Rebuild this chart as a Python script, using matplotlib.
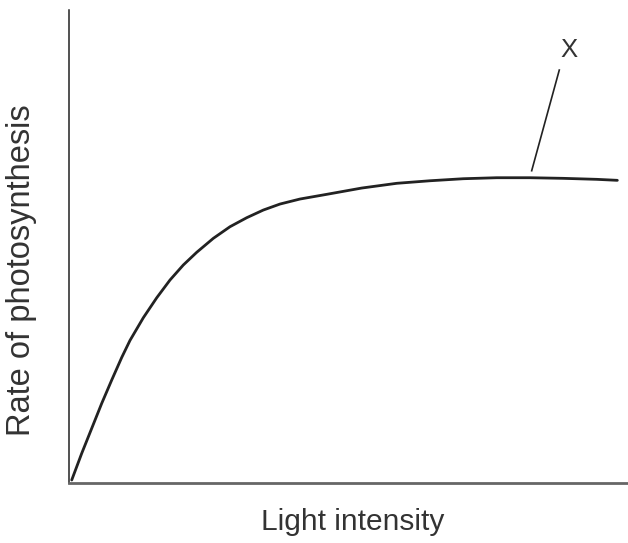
import matplotlib
matplotlib.use('Agg')
import matplotlib.pyplot as plt
import numpy as np

plt.rcParams['font.family'] = ['Liberation Sans', 'DejaVu Sans']

# curve (axis units 0-10, no scale shown)
light = [0.043, 0.222, 0.401, 0.580, 0.759, 0.938, 1.086, 1.325, 1.564, 1.802,
         2.040, 2.280, 2.577, 2.876, 3.175, 3.472, 3.771, 4.129, 4.607, 5.234,
         5.860, 6.456, 7.052, 7.650, 8.246, 8.842, 9.440, 9.809]
rate = [0.070, 0.634, 1.162, 1.690, 2.183, 2.660, 3.020, 3.500, 3.920, 4.296,
        4.613, 4.881, 5.176, 5.422, 5.612, 5.774, 5.901, 6.007, 6.106, 6.239,
        6.339, 6.393, 6.436, 6.457, 6.457, 6.444, 6.423, 6.402]

# pointer to the plateau and its label
pointer_x = [8.770, 8.276]
pointer_y = [8.732, 6.605]
label_x, label_y = 8.949, 9.155

fig = plt.figure(figsize=(6.28, 5.43), dpi=100)
ax = fig.add_axes([0.1104, 0.1099, 0.8896, 0.8716])

ax.plot(light, rate, color='#222222', linewidth=2.0,
        solid_capstyle='round', solid_joinstyle='round')
ax.plot(pointer_x, pointer_y, color='#222222', linewidth=1.2)
ax.text(label_x, label_y, 'X', fontsize=18.5, color='#333333',
        ha='center', va='center')

ax.set_xlim(0, 10)
ax.set_ylim(0, 10)
ax.set_xticks([])
ax.set_yticks([])
ax.spines['top'].set_visible(False)
ax.spines['right'].set_visible(False)
ax.spines['left'].set_color('#222222')
ax.spines['left'].set_linewidth(1.1)
ax.spines['bottom'].set_color('#666666')
ax.spines['bottom'].set_linewidth(2.0)

ax.set_xlabel('Light intensity', fontsize=21.5, color='#333333', va='top')
ax.xaxis.set_label_coords(0.507, -0.052)
ax.set_ylabel('Rate of photosynthesis', fontsize=23.5, color='#333333',
              va='center')
ax.yaxis.set_label_coords(-0.085, 0.4507)

fig.savefig('out.png', dpi=100)
